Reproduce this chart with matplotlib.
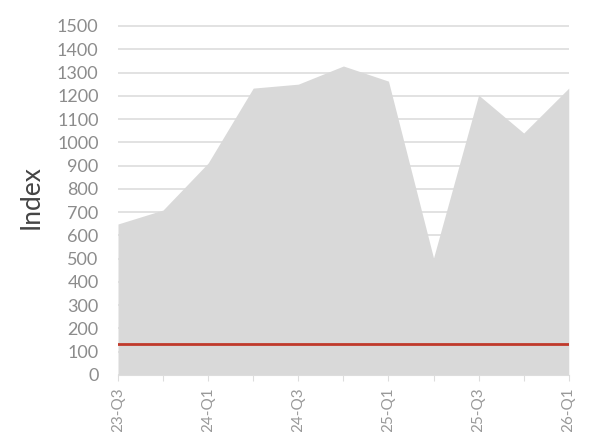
import matplotlib.pyplot as plt
import numpy as np

# quarterly index values
quarters = ['23-Q3', '23-Q4', '24-Q1', '24-Q2', '24-Q3', '24-Q4',
            '25-Q1', '25-Q2', '25-Q3', '25-Q4', '26-Q1']
index_vals = [649, 709, 911, 1233, 1250, 1328, 1263, 503, 1203, 1040, 1233]
baseline = 133
y_ticks = list(range(0, 1600, 100))

plt.rcParams['font.family'] = ['Lato', 'DejaVu Sans']

fig = plt.figure(figsize=(5.9, 4.32), dpi=100)
ax = fig.add_axes([0.2, 0.132, 0.764, 0.824])

x = np.arange(len(quarters))
for t in y_ticks:
    ax.axhline(t, color='#dddddd', lw=1.2, zorder=0)
ax.fill_between(x, 0, index_vals, color='#d9d9d9', lw=0, zorder=1)
ax.axhline(baseline, color='#c0392b', lw=2, zorder=2)

ax.set_xlim(0, len(quarters) - 1)
ax.set_ylim(0, 1530)
ax.set_yticks(y_ticks)
ax.set_yticklabels([str(t) for t in y_ticks], fontsize=13, color='#8c8c8c')
ax.set_xticks(x)
ax.set_xticklabels([q if i % 2 == 0 else '' for i, q in enumerate(quarters)],
                   rotation=90, fontsize=11, color='#999999')
ax.tick_params(axis='y', length=0, pad=14)
ax.tick_params(axis='x', length=4, color='#dddddd', pad=5)

for s in ['top', 'right', 'left']:
    ax.spines[s].set_visible(False)
ax.spines['bottom'].set_color('#dddddd')

ax.set_ylabel('Index', fontsize=19, color='#444444')
ax.yaxis.set_label_coords(-0.165, 0.5)

fig.savefig('out.png', dpi=100)
